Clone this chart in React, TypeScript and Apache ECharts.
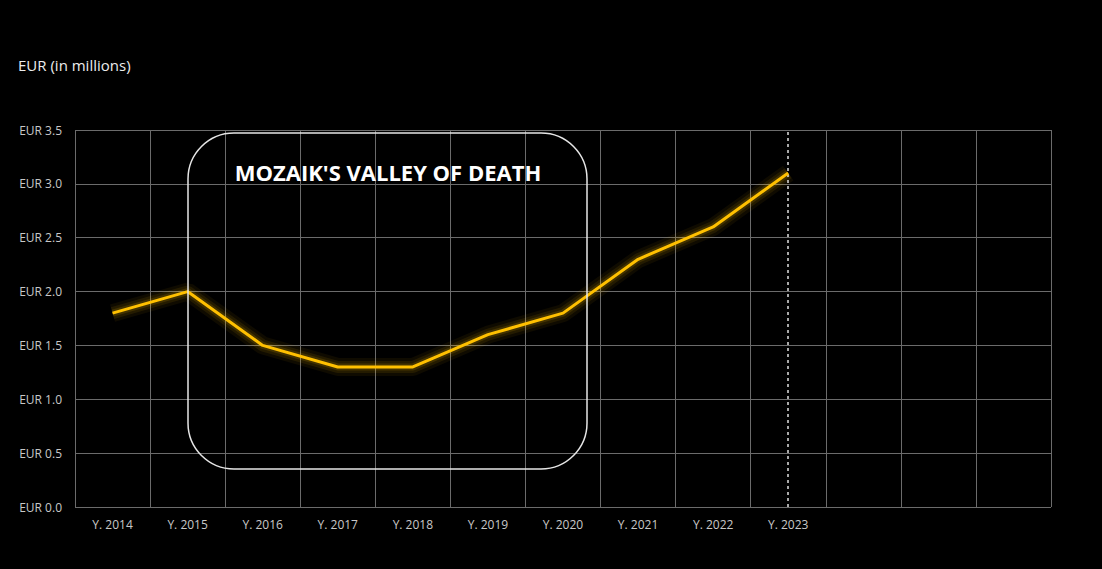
import React, { useEffect, useRef } from "react";
import * as echarts from "echarts";

const categories = ["Y. 2014", "Y. 2015", "Y. 2016", "Y. 2017", "Y. 2018", "Y. 2019", "Y. 2020", "Y. 2021", "Y. 2022", "Y. 2023", "", " ", "  "];
const revenue = [1.8, 2.0, 1.5, 1.3, 1.3, 1.6, 1.8, 2.3, 2.6, 3.1];
const markerCategory = "Y. 2023";
const yTitle = "EUR (in millions)";
const boxTitle = "MOZAIK'S VALLEY OF DEATH";

export default function App() {
  const ref = useRef<HTMLDivElement>(null);
  useEffect(() => {
    document.body.style.margin = "0";
    document.body.style.background = "#000";
    const chart = echarts.init(ref.current!, null, { renderer: "svg" });
    chart.setOption({
      animation: false,
      backgroundColor: "#000000",
      grid: { left: 75, right: 51, top: 130, bottom: 62 },
      xAxis: {
        type: "category",
        data: categories,
        boundaryGap: true,
        axisLine: { show: false },
        axisTick: { show: false },
        splitLine: { show: true, lineStyle: { color: "#6b6b6b", width: 1 } },
        axisLabel: { color: "#c8c8c8", fontSize: 12, fontFamily: "Open Sans", margin: 11, interval: 0 },
      },
      yAxis: {
        type: "value",
        min: 0,
        max: 3.5,
        interval: 0.5,
        axisLine: { show: false },
        axisTick: { show: false },
        splitLine: { show: true, lineStyle: { color: "#6b6b6b", width: 1 } },
        axisLabel: {
          color: "#c8c8c8",
          fontSize: 12,
          fontFamily: "Open Sans",
          margin: 13,
          formatter: (v: number) => "EUR " + v.toFixed(1),
        },
      },
      series: [
        {
          type: "line",
          data: revenue,
          symbol: "none",
          silent: true,
          lineStyle: { color: "rgba(255, 192, 0, 0.06)", width: 18 },
          z: 2,
        },
        {
          type: "line",
          data: revenue,
          symbol: "none",
          silent: true,
          lineStyle: { color: "rgba(255, 192, 0, 0.09)", width: 12 },
          z: 3,
        },
        {
          type: "line",
          data: revenue,
          symbol: "none",
          silent: true,
          lineStyle: { color: "rgba(255, 192, 0, 0.14)", width: 7 },
          z: 4,
        },
        {
          type: "line",
          data: revenue,
          symbol: "none",
          lineStyle: { color: "#FFC000", width: 3 },
          markLine: {
            symbol: "none",
            silent: true,
            label: { show: false },
            lineStyle: { color: "#e0e0e0", type: [3, 3], width: 1.5 },
            data: [{ xAxis: markerCategory }],
          },
          z: 5,
        },
      ],
      graphic: [
        {
          type: "text",
          left: 18,
          top: 57,
          style: { text: yTitle, fill: "#ececec", fontSize: 15, fontFamily: "Open Sans" },
        },
        {
          type: "rect",
          shape: { x: 188, y: 133, width: 399, height: 336, r: 46 },
          style: { fill: "none", stroke: "#e6e6e6", lineWidth: 1.5 },
          z: 10,
        },
        {
          type: "text",
          x: 388,
          y: 172,
          style: {
            text: boxTitle,
            fill: "#ffffff",
            fontSize: 22,
            fontWeight: "bold",
            fontFamily: "Open Sans",
            align: "center",
            verticalAlign: "middle",
          },
          z: 10,
        },
      ],
    });
    return () => chart.dispose();
  }, []);
  return <div ref={ref} style={{ position: "fixed", left: 0, top: 0, width: 1102, height: 569, background: "#000" }} />;
}
